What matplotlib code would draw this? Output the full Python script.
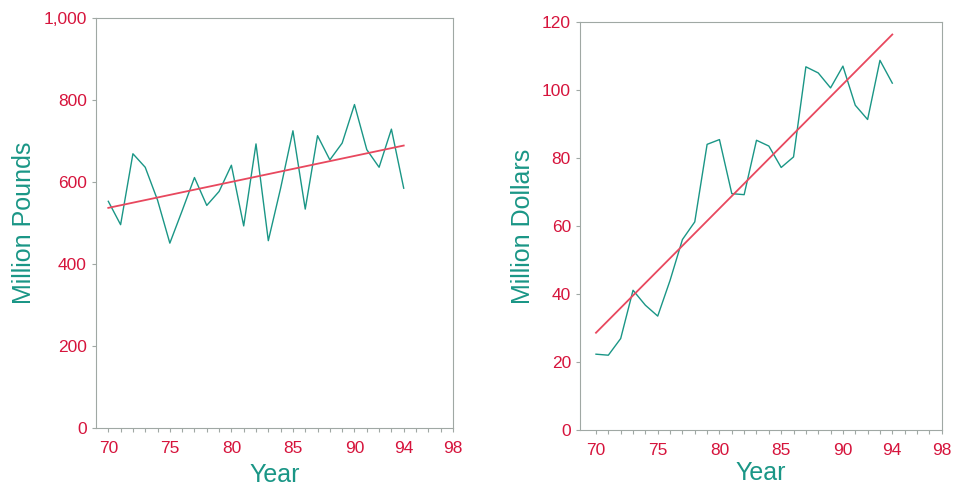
import numpy as np
import matplotlib.pyplot as plt
from matplotlib.ticker import FuncFormatter

# Data
years = list(range(70, 95))
pounds = [553, 496, 669, 636, 556, 451, 530, 611, 543, 577, 641, 493, 693,
          457, 585, 725, 534, 713, 654, 695, 789, 679, 636, 729, 585]
dollars = [22.3, 22.0, 26.9, 41.1, 36.7, 33.5, 44.0, 56.0, 61.2, 84.0, 85.4,
           69.5, 69.2, 85.2, 83.5, 77.2, 80.3, 106.8, 105.0, 100.6, 107.0,
           95.5, 91.3, 108.7, 102.0]
trend_years = [70, 94]
pounds_trend = [537, 689]
dollars_trend = [28.6, 116.3]

xtick_labels = [70, 75, 80, 85, 90, 94, 98]

teal = '#1a9686'
red = '#d6143c'
line_red = '#e8485e'
frame = '#a0a8a4'

plt.rcParams['font.family'] = ['Liberation Sans', 'DejaVu Sans']

fig = plt.figure(figsize=(9.57, 4.87), dpi=100)
ax1 = fig.add_axes([0.1003, 0.121, 0.373, 0.842])
ax2 = fig.add_axes([0.606, 0.117, 0.378, 0.838])


def style(ax, xlim, ylim, yticks, ylabel, fmt, xpad, ypad):
    ax.set_xlim(*xlim)
    ax.set_ylim(*ylim)
    ax.set_xticks(xtick_labels)
    ax.set_xticks(range(70, 99), minor=True)
    ax.set_yticks(yticks)
    ax.yaxis.set_major_formatter(FuncFormatter(fmt))
    for s in ax.spines.values():
        s.set_color(frame)
        s.set_linewidth(0.8)
    ax.tick_params(axis='both', which='both', colors=frame, labelcolor=red,
                   labelsize=12.5, direction='out', length=3, width=0.8)
    ax.tick_params(axis='x', which='major', pad=6)
    ax.set_xlabel('Year', color=teal, fontsize=18, labelpad=xpad)
    ax.set_ylabel(ylabel, color=teal, fontsize=18, labelpad=ypad)


ax1.plot(years, pounds, color=teal, lw=1.0)
ax1.plot(trend_years, pounds_trend, color=line_red, lw=1.3)
style(ax1, (69.0, 98.0), (0, 1000), [0, 200, 400, 600, 800, 1000],
      'Million Pounds', lambda v, p: '{:,.0f}'.format(v), 5, 5.5)

ax2.plot(years, dollars, color=teal, lw=1.0)
ax2.plot(trend_years, dollars_trend, color=line_red, lw=1.3)
style(ax2, (68.7, 98.0), (0, 120), [0, 20, 40, 60, 80, 100, 120],
      'Million Dollars', lambda v, p: '{:.0f}'.format(v), 2.5, 5)

fig.savefig('out.png', dpi=100)
